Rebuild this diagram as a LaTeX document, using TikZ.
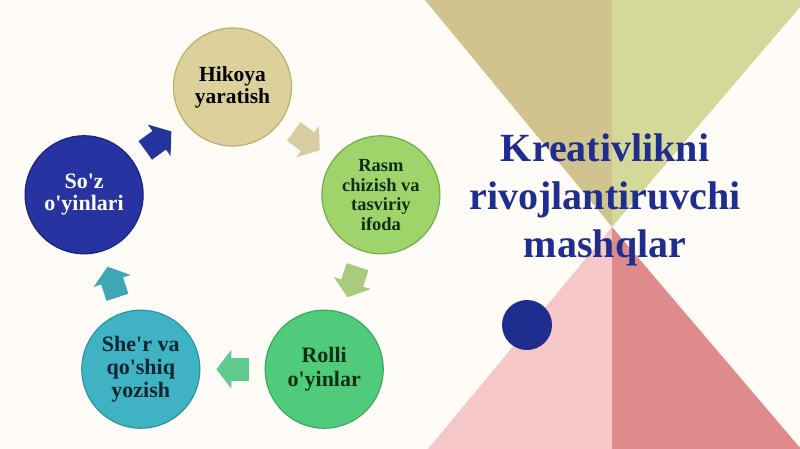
\documentclass[tikz,border=0pt]{standalone}
\usepackage{fontspec}
\setmainfont{Liberation Serif}
\usetikzlibrary{arrows.meta}

\definecolor{bgcol}{HTML}{FFFCF7}
\definecolor{triOlive}{HTML}{D1C38E}
\definecolor{triLime}{HTML}{D4D898}
\definecolor{triRose}{HTML}{F5C7C7}
\definecolor{triRed}{HTML}{E08B8B}
\definecolor{titleBlue}{HTML}{1F2E8E}
\definecolor{hikFill}{HTML}{DDD19B}
\definecolor{hikRim}{HTML}{BDAE70}
\definecolor{rasFill}{HTML}{9FD46B}
\definecolor{rasRim}{HTML}{6FAE48}
\definecolor{rolFill}{HTML}{50CB7B}
\definecolor{rolRim}{HTML}{38AA60}
\definecolor{sheFill}{HTML}{3FB3C3}
\definecolor{sheRim}{HTML}{2C93A4}
\definecolor{sozFill}{HTML}{2733A0}
\definecolor{sozRim}{HTML}{1A2380}
\definecolor{greenText}{HTML}{0E2E12}
\definecolor{tealText}{HTML}{0C2630}
\definecolor{hikArrow}{HTML}{D7CCA2}
\definecolor{rasArrow}{HTML}{A9CB7D}
\definecolor{rolArrow}{HTML}{5CCB8B}
\definecolor{sheArrow}{HTML}{3EA6B5}
\definecolor{sozArrow}{HTML}{23349C}

\newcommand{\apo}{\textquotesingle}

\begin{document}
\begin{tikzpicture}[x=1pt,y=1pt,
        main node/.style={circle,draw,line width=1.2pt,minimum size=118pt,inner sep=0pt,
            align=center,font=\fontsize{21.5}{22}\selectfont\bfseries},
        cyc arrow/.style={line width=23pt,-{Triangle[width=38pt,length=15pt]},
            shorten >=16pt,shorten <=16pt}]
    \fill[bgcol] (0,0) rectangle (800,449);
    \clip (0,0) rectangle (800,449);
    % background triangles
    \fill[triOlive] (425,449) -- (612,449) -- (612,222) -- cycle;
    \fill[triLime] (612,449) -- (806,449) -- (612,222) -- cycle;
    \fill[triRose] (428,0) -- (612,0) -- (612,222) -- cycle;
    \fill[triRed] (612,0) -- (801,0) -- (612,222) -- cycle;
    \node[text=titleBlue,align=center,font=\fontsize{40}{48}\selectfont\bfseries] (title)
        at (605,249) {Kreativlikni\\rivojlantiruvchi\\mashqlar};
    \node[circle,fill=titleBlue,minimum size=50pt,inner sep=0pt] (dot) at (527,124) {};
    % cycle
    \node[main node,fill=hikFill,draw=hikRim] (hik) at (232.5,362) {Hikoya\\yaratish};
    \node[main node,fill=rasFill,draw=rasRim,text=greenText,
        font=\fontsize{18.5}{19.5}\selectfont\bfseries] (ras) at (380.9,254.2)
        {Rasm\\chizish va\\tasviriy\\ifoda};
    \node[main node,fill=rolFill,draw=rolRim,text=greenText,
        font=\fontsize{22}{24}\selectfont\bfseries] (rol) at (324.2,79.8) {Rolli\\o\apo yinlar};
    \node[main node,fill=sheFill,draw=sheRim,text=tealText,
        font=\fontsize{22}{23}\selectfont\bfseries] (she) at (140.8,79.8)
        {She\apo r va\\qo\apo shiq\\yozish};
    \node[main node,fill=sozFill,draw=sozRim,text=white,
        font=\fontsize{22}{22}\selectfont\bfseries] (soz) at (84.1,254.2) {So\apo z\\o\apo yinlari};
    \path
    (hik) edge[cyc arrow,hikArrow] (ras)
    (ras) edge[cyc arrow,rasArrow] (rol)
    (rol) edge[cyc arrow,rolArrow] (she)
    (she) edge[cyc arrow,sheArrow] (soz)
    (soz) edge[cyc arrow,sozArrow] (hik)
    ;
\end{tikzpicture}
\end{document}
